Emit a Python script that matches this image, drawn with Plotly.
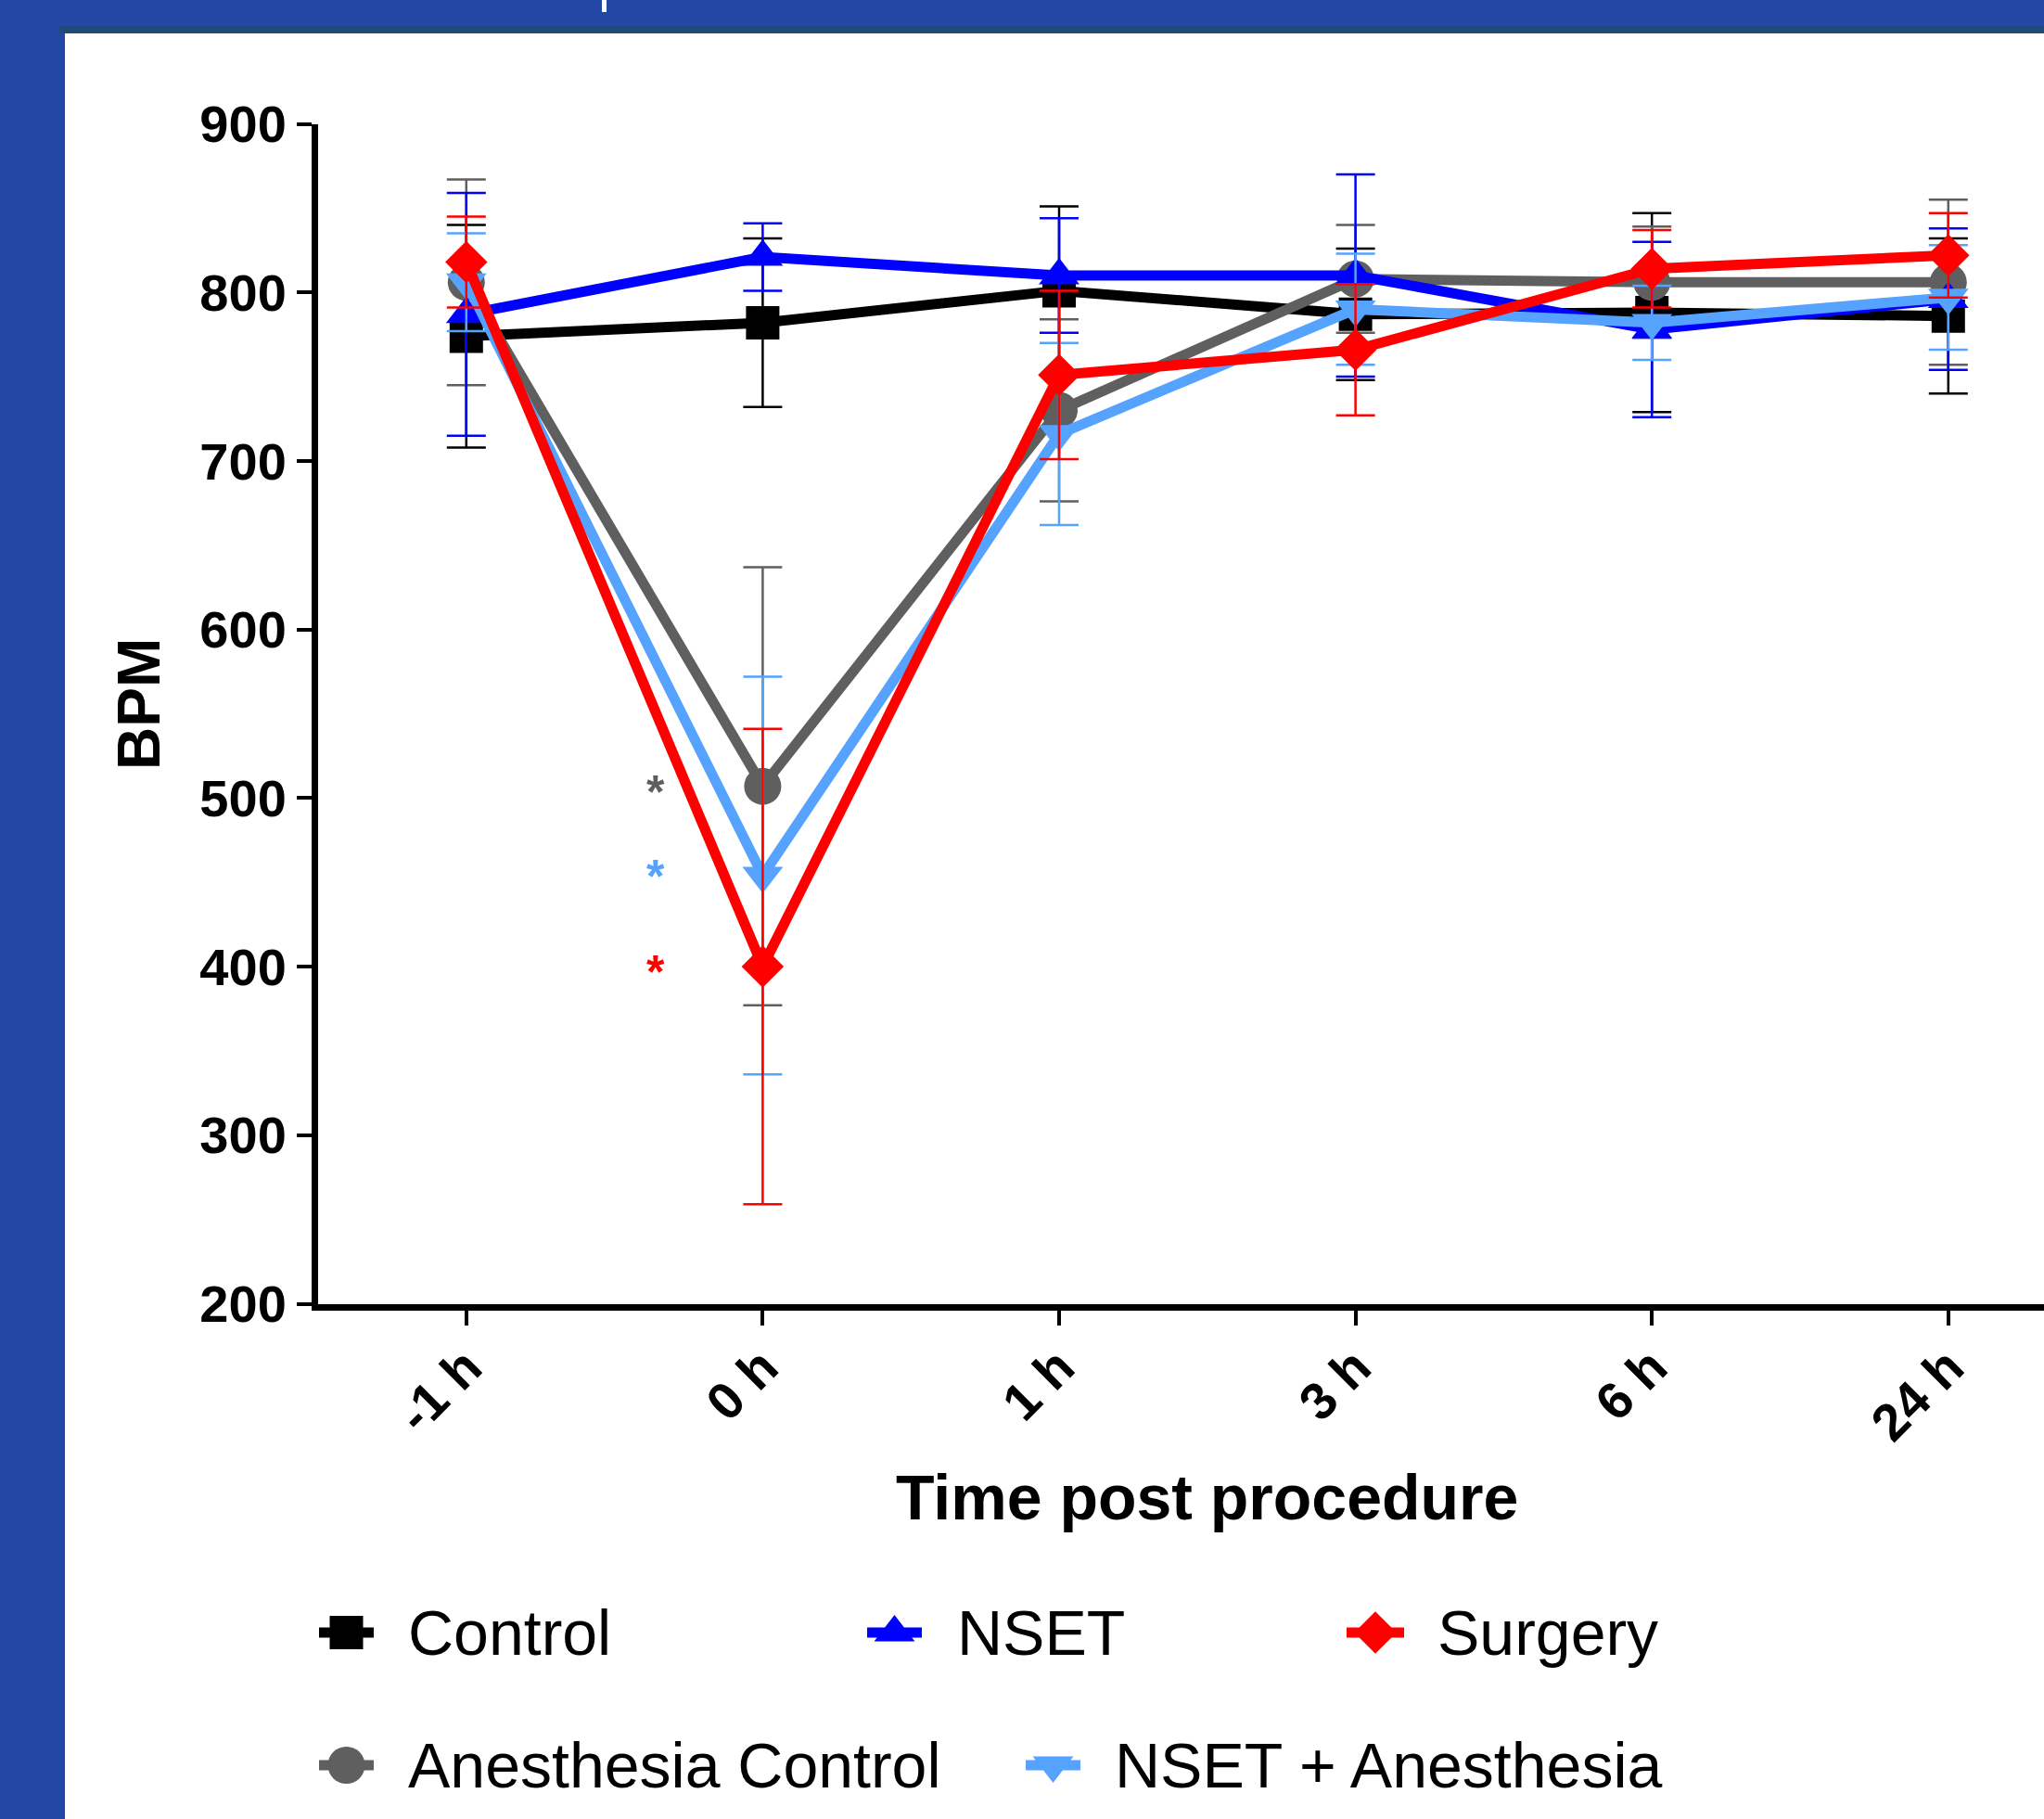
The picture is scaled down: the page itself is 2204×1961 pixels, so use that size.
import plotly.graph_objects as go

# ---------------- data ----------------
time_labels = ["-1 h", "0 h", "1 h", "3 h", "6 h", "24 h"]

control_mean = [774, 782, 801, 787, 788, 786]
control_err = [66, 50, 50, 39, 59, 46]

nset_mean = [787, 821, 810, 810, 778, 796]
nset_err = [72, 20, 34, 60, 52, 42]

surgery_mean = [818, 400, 751, 766, 814, 822]
surgery_err = [27, 141, 50, 39, 23, 25]

anesth_mean = [806, 507, 730, 808, 806, 806]
anesth_err = [61, 130, 54, 32, 33, 49]

nset_anesth_mean = [806, 454, 716, 790, 782, 797]
nset_anesth_err = [29, 118, 54, 33, 22, 31]

# significance asterisks next to the 0 h points
sig_x = 0.64
sig_y = [509, 459, 402]
sig_colors = ["#5f5f5f", "#55a2ff", "#ff0000"]

y_ticks = [200, 300, 400, 500, 600, 700, 800, 900]

# ---------------- styles ----------------
W, H = 2204, 1961
FONT = "Liberation Sans, Arial, sans-serif"
BG = "#2347a4"
x_idx = list(range(len(time_labels)))

series = [
    # name, mean, err, color, symbol, size
    ("Control", control_mean, control_err, "#000000", "square", 36),
    ("Anesthesia Control", anesth_mean, anesth_err, "#5f5f5f", "circle", 40),
    ("NSET", nset_mean, nset_err, "#0000ff", "triangle-up", 38),
    ("NSET + Anesthesia", nset_anesth_mean, nset_anesth_err, "#55a2ff", "triangle-down", 38),
    ("Surgery", surgery_mean, surgery_err, "#ff0000", "diamond", 35),
]

fig = go.Figure()

for name, mean, err, color, symbol, size in series:
    fig.add_trace(go.Scatter(
        x=x_idx, y=mean, name=name, mode="lines+markers",
        line=dict(color=color, width=11),
        marker=dict(color=color, symbol=symbol, size=size, line=dict(width=0)),
        error_y=dict(type="data", array=err, visible=True, color=color,
                     thickness=2.5, width=21),
        cliponaxis=False, showlegend=False,
        xaxis="x", yaxis="y",
    ))

# ---------------- custom legend (pixel coordinates on overlay axes) ----------------
legend_items = [
    # name, line x0, line x1, text x, y
    ("Control", 344, 403, 438, 1760),
    ("NSET", 935, 994, 1030, 1760),
    ("Surgery", 1452, 1514, 1548, 1760),
    ("Anesthesia Control", 344, 403, 438, 1903),
    ("NSET + Anesthesia", 1106, 1165, 1200, 1903),
]
style_by_name = {s[0]: s for s in series}
annotations = []
for name, lx0, lx1, tx, ly in legend_items:
    _, _, _, color, symbol, size = style_by_name[name]
    fig.add_trace(go.Scatter(
        x=[lx0, lx1], y=[ly, ly], mode="lines",
        line=dict(color=color, width=11), showlegend=False, hoverinfo="skip",
        xaxis="x2", yaxis="y2",
    ))
    fig.add_trace(go.Scatter(
        x=[(lx0 + lx1) / 2], y=[ly], mode="markers",
        marker=dict(color=color, symbol=symbol, size=size, line=dict(width=0)),
        showlegend=False, hoverinfo="skip", xaxis="x2", yaxis="y2",
    ))
    annotations.append(dict(
        x=tx, y=ly, xref="x2", yref="y2", text=name, showarrow=False,
        xanchor="left", yanchor="middle",
        font=dict(family=FONT, size=68, color="#000000"),
    ))

# asterisks
for sy, sc in zip(sig_y, sig_colors):
    annotations.append(dict(
        x=sig_x, y=sy, xref="x", yref="y", text="*", showarrow=False,
        xanchor="center", yanchor="middle", yshift=-10,
        font=dict(family=FONT, size=50, color=sc, weight="bold"),
    ))

# axis titles
plot_left = 343
plot_top = 133.5
plot_bottom = 1405.5
annotations.append(dict(
    x=2.5, xref="x", y=(H - 1614) / H, yref="paper",
    text="Time post procedure", showarrow=False,
    xanchor="center", yanchor="middle",
    font=dict(family=FONT, size=68, color="#000000", weight="bold"),
))
annotations.append(dict(
    x=150 / W, xref="paper", y=(H - 759) / H, yref="paper",
    text="BPM", showarrow=False, textangle=-90,
    xanchor="center", yanchor="middle",
    font=dict(family=FONT, size=64, color="#000000", weight="bold"),
))

units_per_px = 1 / 319.6
x_max = -0.5 + (W - plot_left) * units_per_px

shapes = [
    # white slide panel
    dict(type="rect", xref="paper", yref="paper", x0=70 / W, x1=1.0,
         y0=0, y1=(H - 36) / H, fillcolor="#ffffff", line=dict(width=0), layer="below"),
    # dark strip on top of the panel
    dict(type="rect", xref="paper", yref="paper", x0=63 / W, x1=1.0,
         y0=(H - 36) / H, y1=(H - 28) / H, fillcolor="#214a7c", line=dict(width=0), layer="below"),
    # white fragment of slide title at top
    dict(type="rect", xref="paper", yref="paper", x0=649 / W, x1=654 / W,
         y0=(H - 13) / H, y1=1.0, fillcolor="#ffffff", line=dict(width=0), layer="below"),
]

fig.update_layout(
    template="none",
    width=W, height=H, autosize=False,
    margin=dict(l=0, r=0, t=0, b=0, pad=0, autoexpand=False),
    paper_bgcolor=BG,
    plot_bgcolor="rgba(0,0,0,0)",
    font=dict(family=FONT, color="#000000"),
    showlegend=False,
    shapes=shapes,
    annotations=annotations,
    xaxis=dict(
        domain=[plot_left / W, 1.0],
        range=[-0.5, x_max],
        tickmode="array", tickvals=x_idx, ticktext=time_labels,
        tickangle=-45, ticklabelstandoff=-10,
        tickfont=dict(family=FONT, size=56, color="#000000", weight="bold"),
        showline=True, linewidth=7, linecolor="#000000",
        ticks="outside", ticklen=16, tickwidth=4, tickcolor="#000000",
        showgrid=False, zeroline=False, fixedrange=True, automargin=False,
        anchor="y",
    ),
    yaxis=dict(
        domain=[(H - plot_bottom) / H, (H - plot_top) / H],
        range=[200, 900],
        tickmode="array", tickvals=y_ticks, ticktext=[str(v) for v in y_ticks],
        tickfont=dict(family=FONT, size=56, color="#000000", weight="bold"),
        showline=True, linewidth=7, linecolor="#000000",
        ticks="outside", ticklen=16, tickwidth=4, tickcolor="#000000",
        showgrid=False, zeroline=False, fixedrange=True, automargin=False,
        anchor="x",
    ),
    xaxis2=dict(domain=[0, 1], range=[0, W], visible=False, fixedrange=True,
                automargin=False, anchor="y2"),
    yaxis2=dict(domain=[0, 0.2], range=[H, H - 0.2 * H], visible=False,
                fixedrange=True, automargin=False, anchor="x2"),
)

fig.write_html(
    "out.html",
    config={"displayModeBar": False},
    post_script="document.body.style.margin='0px';document.body.style.background='" + BG + "';",
)
